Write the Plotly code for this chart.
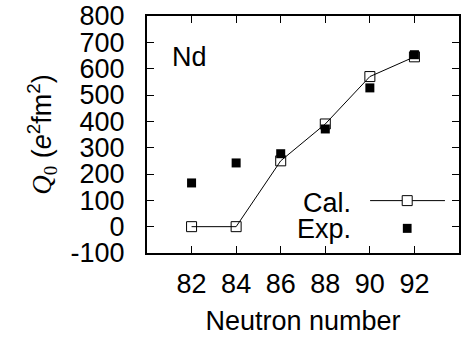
import plotly.graph_objects as go

neutrons = [82, 84, 86, 88, 90, 92]
cal = [0, 0, 250, 390, 570, 645]
exp = [166, 242, 277, 371, 527, 653]
y_ticks = [-100, 0, 100, 200, 300, 400, 500, 600, 700, 800]
x_ticks = [82, 84, 86, 88, 90, 92]

FONT = "Liberation Sans, Arial, sans-serif"
FS = 27

fig = go.Figure()
fig.add_trace(go.Scatter(
    x=neutrons, y=cal, mode="lines+markers", name="Cal.",
    line=dict(color="black", width=1),
    marker=dict(symbol="square-open", size=10, color="black", line=dict(width=1)),
    showlegend=False, cliponaxis=False))
fig.add_trace(go.Scatter(
    x=neutrons, y=exp, mode="markers", name="Exp.",
    marker=dict(symbol="square", size=9, color="black"),
    showlegend=False, cliponaxis=False))

# legend (drawn manually: text left of sample)
leg_y_cal = 0.221
leg_y_exp = 0.104
fig.add_annotation(x=0.66, y=leg_y_cal - 0.008, xref="paper", yref="paper", text="Cal.",
                   showarrow=False, xanchor="right", yanchor="middle",
                   font=dict(size=FS, color="black", family=FONT))
fig.add_annotation(x=0.66, y=leg_y_exp - 0.004, xref="paper", yref="paper", text="Exp.",
                   showarrow=False, xanchor="right", yanchor="middle",
                   font=dict(size=FS, color="black", family=FONT))
fig.add_shape(type="line", xref="paper", yref="paper", x0=0.715, x1=0.955,
              y0=leg_y_cal, y1=leg_y_cal, line=dict(color="black", width=1))
fig.add_shape(type="rect", xref="paper", yref="paper",
              x0=0.834 - 0.016, x1=0.834 + 0.016,
              y0=leg_y_cal - 0.021, y1=leg_y_cal + 0.021,
              line=dict(color="black", width=1), fillcolor="white")
fig.add_shape(type="rect", xref="paper", yref="paper",
              x0=0.834 - 0.014, x1=0.834 + 0.014,
              y0=leg_y_exp - 0.019, y1=leg_y_exp + 0.019,
              line=dict(color="black", width=0), fillcolor="black")

fig.add_annotation(x=0.073, y=0.827, xref="paper", yref="paper", text="Nd",
                   showarrow=False, xanchor="left", yanchor="middle",
                   font=dict(size=FS, color="black", family=FONT))

fig.update_xaxes(
    range=[80, 94], tickvals=x_ticks, ticktext=[str(v) for v in x_ticks],
    ticks="inside", ticklen=7, tickwidth=1, tickcolor="black",
    showline=True, linewidth=2, linecolor="black", mirror="ticks",
    showgrid=False, zeroline=False,
    tickfont=dict(size=FS, color="black", family=FONT),
    ticklabelstandoff=6,
    title=dict(text="Neutron number", font=dict(size=FS, color="black", family=FONT),
               standoff=13))
fig.update_yaxes(
    range=[-100, 800], tickvals=y_ticks, ticktext=[str(v) for v in y_ticks],
    ticks="inside", ticklen=7, tickwidth=1, tickcolor="black",
    showline=True, linewidth=2, linecolor="black", mirror="ticks",
    showgrid=False, zeroline=False,
    tickfont=dict(size=FS, color="black", family=FONT),
    ticklabelstandoff=15,
    title=dict(text="<span style='font-family:Liberation Serif, DejaVu Serif, serif'><i>Q</i><sub>0</sub></span> (<i>e</i><sup>2</sup>fm<sup>2</sup>)",
               font=dict(size=FS, color="black", family=FONT), standoff=11))

fig.update_layout(
    width=462, height=338,
    margin=dict(l=147, r=1, t=16, b=85),
    plot_bgcolor="white", paper_bgcolor="white",
)

fig.write_html("out.html")
